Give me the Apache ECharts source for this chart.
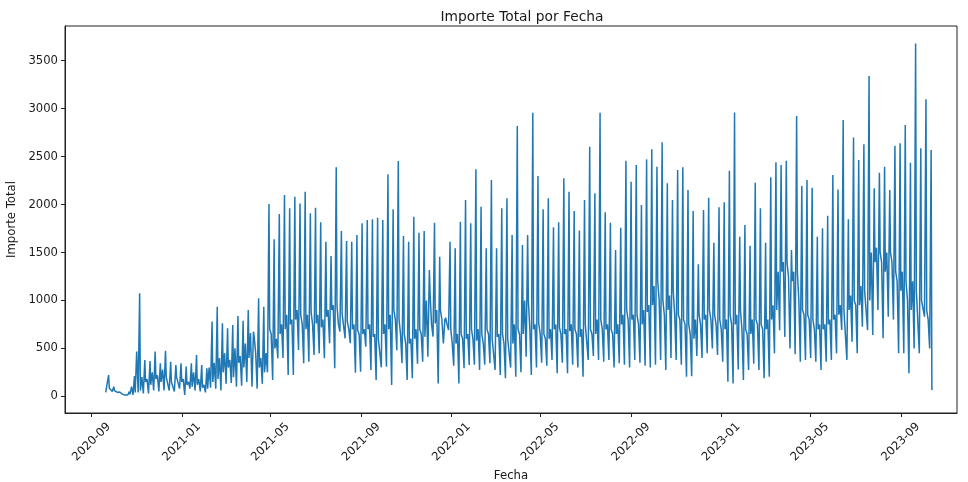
<!DOCTYPE html>
<html>
<head>
<meta charset="utf-8">
<script src="https://cdn.jsdelivr.net/npm/echarts@6/dist/echarts.min.js"></script>
<style>
  html, body { margin: 0; padding: 0; background: #ffffff; }
  #chart { width: 968px; height: 482px; }
</style>
</head>
<body>
<div id="chart"></div>
<script>
// Weekly sales totals: each week starts on a Sunday. Day 0 holds the early-week
// level, day 2 the week's low, day 4 the weekly spike and day 5 the day after it.
const firstWeekStart = [2020, 8, 20];

const weeklyEarly = [
  40, 90, 50, 25, 30, 100, 466, 200, 180, 250,
  220, 280, 200, 150, 220, 180, 150, 250, 180, 120,
  300, 350, 400, 450, 380, 500, 420, 550, 660, 450,
  400, 450, 650, 600, 750, 850, 800, 900, 750, 850,
  750, 850, 800, 900, 950, 750, 850, 700, 750, 650,
  700, 750, 650, 600, 750, 850, 800, 650, 550, 600,
  700, 650, 1000, 750, 900, 800, 750, 550, 650, 600,
  650, 600, 700, 550, 650, 600, 650, 550, 600, 750,
  650, 1000, 700, 750, 650, 600, 700, 750, 650, 700,
  750, 650, 700, 750, 650, 800, 700, 750, 650, 750,
  850, 800, 850, 750, 900, 950, 1150, 1000, 850, 1050,
  850, 800, 750, 650, 800, 750, 850, 800, 750, 700,
  800, 750, 850, 700, 650, 800, 750, 700, 800, 950,
  1300, 1400, 1250, 1300, 1000, 850, 800, 700, 750, 750,
  800, 850, 950, 900, 1050, 950, 1150, 1100, 1500, 1550,
  1400, 1500, 1400, 1200, 1300, 1000, 1200, 1100, 1000, 800
];

const weeklyLow = [
  31, 50, 40, 20, 14, 14, 40, 30, 30, 60,
  50, 60, 60, 50, 80, 15, 80, 60, 50, 40,
  90, 80, 60, 130, 140, 100, 110, 150, 100, 80,
  130, 250, 170, 396, 400, 222, 222, 483, 344, 361,
  431, 448, 396, 553, 292, 674, 605, 553, 247, 257,
  518, 275, 170, 302, 309, 118, 480, 344, 170, 188,
  340, 361, 414, 622, 135, 550, 692, 320, 135, 292,
  327, 330, 275, 330, 344, 275, 222, 188, 300, 205,
  250, 414, 222, 300, 350, 320, 380, 240, 350, 240,
  330, 300, 205, 380, 420, 380, 361, 380, 300, 344,
  330, 300, 380, 350, 320, 300, 330, 380, 275, 400,
  380, 330, 205, 210, 420, 400, 450, 500, 431, 360,
  153, 135, 280, 170, 275, 340, 275, 188, 205, 448,
  690, 620, 500, 440, 360, 380, 400, 360, 275, 361,
  380, 448, 692, 380, 570, 450, 726, 690, 640, 900,
  605, 830, 800, 450, 448, 240, 500, 450, 830, 500
];

const weeklyPeak = [
  222, 100, 60, 30, 49, 212, 1074, 379, 368, 466,
  344, 476, 361, 327, 344, 310, 344, 431, 327, 292,
  779, 935, 761, 709, 744, 838, 789, 900, 674, 1022,
  935, 2005, 1637, 1901, 2099, 1960, 2082, 2012, 2134, 1908,
  1967, 1814, 1613, 1463, 2388, 1724, 1620, 1613, 1682, 1804,
  1839, 1846, 1863, 1839, 2315, 1950, 2454, 1672, 1613, 1873,
  1707, 1724, 1317, 1811, 1456, 796, 1613, 1543, 1821, 2047,
  1804, 2367, 1978, 1543, 2256, 1543, 1960, 2065, 1682, 2819,
  1578, 1682, 2958, 2298, 1950, 2065, 1762, 1814, 2273, 2134,
  1933, 1728, 2047, 2603, 2117, 2958, 1919, 1811, 1526, 1759,
  2457, 2238, 2412, 1995, 2471, 2576, 2395, 2649, 2221, 2047,
  2360, 2388, 2152, 1933, 1376, 1943, 2072, 1602, 1971, 2023,
  2353, 2961, 1665, 1787, 1571, 2228, 1960, 1602, 2284, 2440,
  2412, 2457, 1526, 2923, 2193, 2256, 2176, 1665, 1752, 1884,
  2308, 2158, 2881, 1846, 2700, 2464, 2628, 3340, 2169, 2332,
  2395, 2152, 2614, 2638, 2829, 2437, 3680, 2586, 3097, 2569
];

const weeklyAfterPeak = [
  83, 60, 45, 14, 20, 40, 60, 150, 120, 180,
  150, 200, 150, 200, 150, 120, 100, 120, 90, 80,
  150, 180, 250, 300, 200, 350, 300, 400, 620, 300,
  250, 700, 500, 650, 700, 750, 800, 850, 700, 880,
  760, 720, 830, 900, 950, 860, 780, 700, 690, 650,
  700, 620, 600, 650, 700, 900, 800, 650, 550, 600,
  700, 620, 1074, 760, 900, 820, 700, 550, 650, 600,
  700, 580, 650, 700, 600, 620, 650, 600, 550, 700,
  650, 1000, 700, 760, 650, 600, 700, 720, 650, 680,
  700, 620, 750, 700, 650, 800, 700, 700, 650, 750,
  900, 800, 850, 750, 880, 950, 1200, 1000, 900, 1100,
  850, 800, 750, 600, 850, 800, 900, 850, 800, 700,
  850, 750, 900, 700, 650, 800, 750, 700, 800, 900,
  1300, 1400, 1200, 1300, 900, 850, 800, 700, 700, 750,
  800, 850, 900, 900, 1000, 950, 1100, 1000, 1400, 1500,
  1300, 1500, 1300, 1100, 1200, 900, 1100, 1000, 900, 66
];

const yTicks = [0, 500, 1000, 1500, 2000, 2500, 3000, 3500];
const xTickLabels = ['2020-09', '2021-01', '2021-05', '2021-09', '2022-01',
                     '2022-05', '2022-09', '2023-01', '2023-05', '2023-09'];

function dayOf(offset) {
  return new Date(firstWeekStart[0], firstWeekStart[1], firstWeekStart[2] + offset).getTime();
}
function monthStart(label) {
  const [y, m] = label.split('-').map(Number);
  return new Date(y, m - 1, 1).getTime();
}
function monthLabel(v) {
  const d = new Date(v);
  return d.getFullYear() + '-' + String(d.getMonth() + 1).padStart(2, '0');
}

const points = [];
weeklyPeak.forEach((peak, k) => {
  points.push([dayOf(7 * k), weeklyEarly[k]]);
  points.push([dayOf(7 * k + 2), weeklyLow[k]]);
  points.push([dayOf(7 * k + 4), peak]);
  points.push([dayOf(7 * k + 5), weeklyAfterPeak[k]]);
});

const xTickValues = xTickLabels.map(monthStart);
const FONT = 'DejaVu Sans';
const TEXT = '#1a1a1a';

const chart = echarts.init(document.getElementById('chart'), null, { renderer: 'canvas' });
chart.setOption({
  animation: false,
  backgroundColor: '#ffffff',
  title: {
    text: 'Importe Total por Fecha',
    left: 517,
    top: 5,
    textAlign: 'center',
    textStyle: { fontFamily: FONT, fontSize: 13.8, fontWeight: 'normal', color: TEXT }
  },
  grid: {
    left: 65, right: 11, top: 26, bottom: 69,
    containLabel: false,
    outerBoundsMode: 'none',
    show: true, borderColor: '#222', borderWidth: 1, backgroundColor: 'transparent'
  },
  xAxis: {
    type: 'value',
    min: new Date(2020, 6, 27).getTime(),
    max: new Date(2023, 10, 16).getTime(),
    name: 'Fecha',
    nameLocation: 'middle',
    nameGap: 53,
    nameTextStyle: { fontFamily: FONT, fontSize: 11.7, color: TEXT },
    axisLine: { show: true, onZero: false, lineStyle: { color: '#222', width: 1 } },
    axisTick: { show: true, length: 4, lineStyle: { color: '#222' }, customValues: xTickValues },
    axisLabel: {
      customValues: xTickValues,
      formatter: monthLabel,
      rotate: 45,
      align: 'center',
      verticalAlign: 'middle',
      margin: 29,
      fontFamily: FONT, fontSize: 11.6, color: TEXT
    },
    splitLine: { show: false }
  },
  yAxis: {
    type: 'value',
    min: -174,
    max: 3862,
    name: 'Importe Total',
    nameLocation: 'middle',
    nameGap: 43,
    nameTextStyle: { fontFamily: FONT, fontSize: 11.7, color: TEXT },
    axisLine: { show: true, onZero: false, lineStyle: { color: '#222', width: 1 } },
    axisTick: { show: true, length: 4, lineStyle: { color: '#222' }, customValues: yTicks },
    axisLabel: {
      customValues: yTicks,
      formatter: v => String(v),
      margin: 7, fontFamily: FONT, fontSize: 11.6, color: TEXT
    },
    splitLine: { show: false }
  },
  series: [{
    type: 'line',
    data: points,
    showSymbol: false,
    lineStyle: { color: '#1f77b4', width: 1.5 },
    itemStyle: { color: '#1f77b4' }
  }]
});
</script>
</body>
</html>
